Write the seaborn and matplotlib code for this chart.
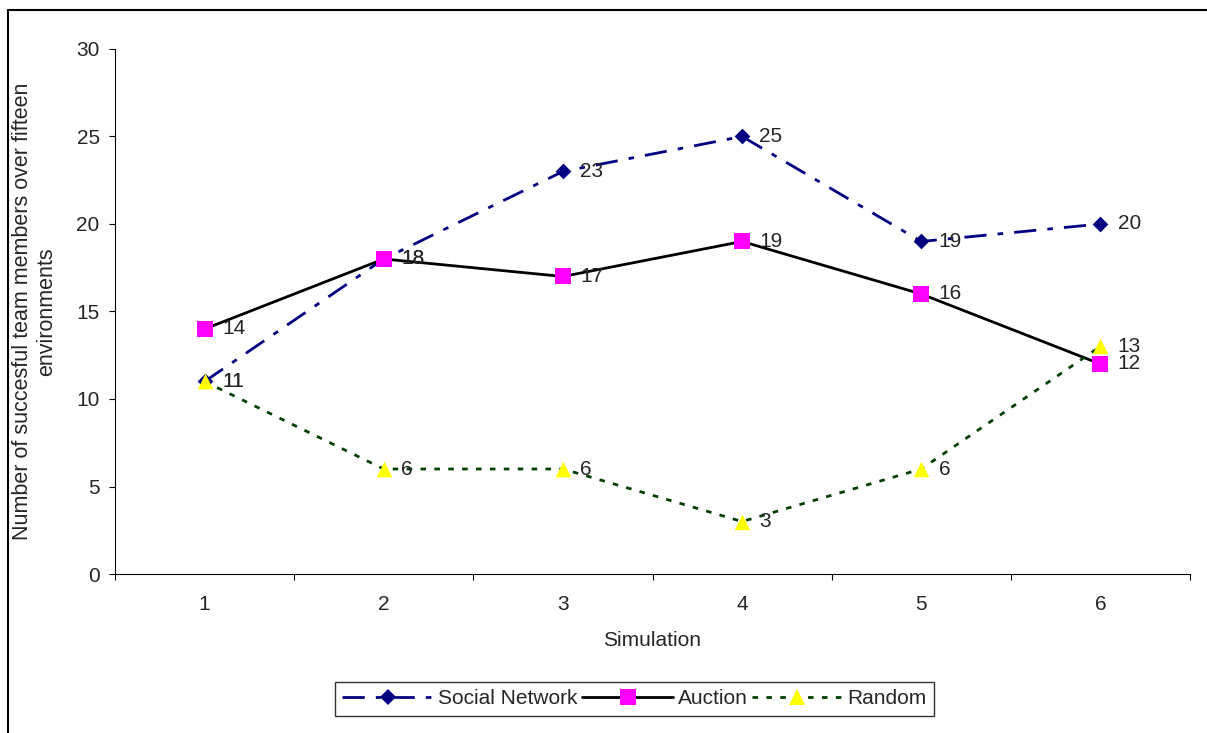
import pandas as pd
import seaborn as sns
import matplotlib.pyplot as plt
from matplotlib.lines import Line2D

# Veriler
simulation = [1, 2, 3, 4, 5, 6]
social_network = [11, 18, 23, 25, 19, 20]
auction = [14, 18, 17, 19, 16, 12]
random_team = [11, 6, 6, 3, 6, 13]

seriler = ["Social Network", "Auction", "Random"]
veri = pd.DataFrame({
    "Simulation": simulation * 3,
    "Value": social_network + auction + random_team,
    "Series": [s for s in seriler for _ in simulation],
})

sns.set_style("ticks")
plt.rcParams["font.family"] = ["Liberation Sans", "DejaVu Sans"]

fig = plt.figure(figsize=(12.07, 7.33), dpi=100)
ax = fig.add_axes([0.0953, 0.2169, 0.8906, 0.7163])

renkler = {"Social Network": "#000080", "Auction": "#000000", "Random": "#004000"}
dashes = {"Social Network": (8, 4, 2, 4), "Auction": "", "Random": (2, 3)}
markers = {"Social Network": "D", "Auction": "s", "Random": "^"}
marker_renk = {"Social Network": "#000080", "Auction": "#FF00FF", "Random": "#FFFF00"}
marker_boyut = {"Social Network": 64, "Auction": 130, "Random": 125}

sns.lineplot(data=veri, x="Simulation", y="Value", hue="Series", style="Series",
             palette=renkler, dashes=dashes, markers=False, linewidth=2,
             ax=ax, legend=False)

for s in seriler:
    d = veri[veri["Series"] == s]
    ax.scatter(d["Simulation"], d["Value"], marker=markers[s], color=marker_renk[s],
               s=marker_boyut[s], zorder=5, linewidths=0)
    for x, y in zip(d["Simulation"], d["Value"]):
        ax.annotate(str(y), (x, y), xytext=(12.5, 0), textcoords="offset points",
                    va="center", ha="left", fontsize=15, zorder=6)

ax.set_xlim(0.5, 6.5)
ax.set_ylim(0, 30)
ax.set_yticks(range(0, 31, 5))
ax.set_xticks([0.5 + i for i in range(7)])
ax.set_xticklabels([])
ax.set_xticks(simulation, minor=True)
ax.set_xticklabels([str(i) for i in simulation], minor=True)
ax.tick_params(axis="x", which="minor", length=0, pad=15, labelsize=15)
ax.tick_params(axis="x", which="major", length=4.5, direction="out", color="black")
ax.tick_params(axis="y", length=4.5, direction="out", labelsize=15, color="black", pad=6.5)
for sp in ["top", "right"]:
    ax.spines[sp].set_visible(False)
ax.spines["left"].set_color("black")
ax.spines["bottom"].set_color("black")
ax.set_xlabel("Simulation", fontsize=15, labelpad=12)
ax.set_ylabel("Number of succesful team members over fifteen\nenvironments", fontsize=15.5,
              labelpad=14)

# Legend
handles = [
    Line2D([], [], color="#000080", dashes=(8, 4, 2, 4), marker="D", markersize=8,
           markerfacecolor="#000080", markeredgewidth=0, linewidth=2),
    Line2D([], [], color="black", marker="s", markersize=11,
           markerfacecolor="#FF00FF", markeredgewidth=0, linewidth=2),
    Line2D([], [], color="#004000", dashes=(2, 3), marker="^", markersize=11,
           markerfacecolor="#FFFF00", markeredgewidth=0, linewidth=2),
]
leg = fig.legend(handles, seriler, loc="center", bbox_to_anchor=(0.5257, 0.0464), ncol=3,
                 frameon=True, fancybox=False, fontsize=15, handlelength=4.4,
                 columnspacing=0.2, handletextpad=0.2, borderpad=0.35, borderaxespad=0)
leg.get_frame().set_edgecolor("black")
leg.get_frame().set_linewidth(1)

# Sol ve üst çerçeve
fig.add_artist(Line2D([0.007, 1.0], [0.986, 0.986], transform=fig.transFigure,
                      color="black", linewidth=1.5))
fig.add_artist(Line2D([0.007, 0.007], [0.0, 0.986], transform=fig.transFigure,
                      color="black", linewidth=1.5))

fig.savefig("out.png", dpi=100)
